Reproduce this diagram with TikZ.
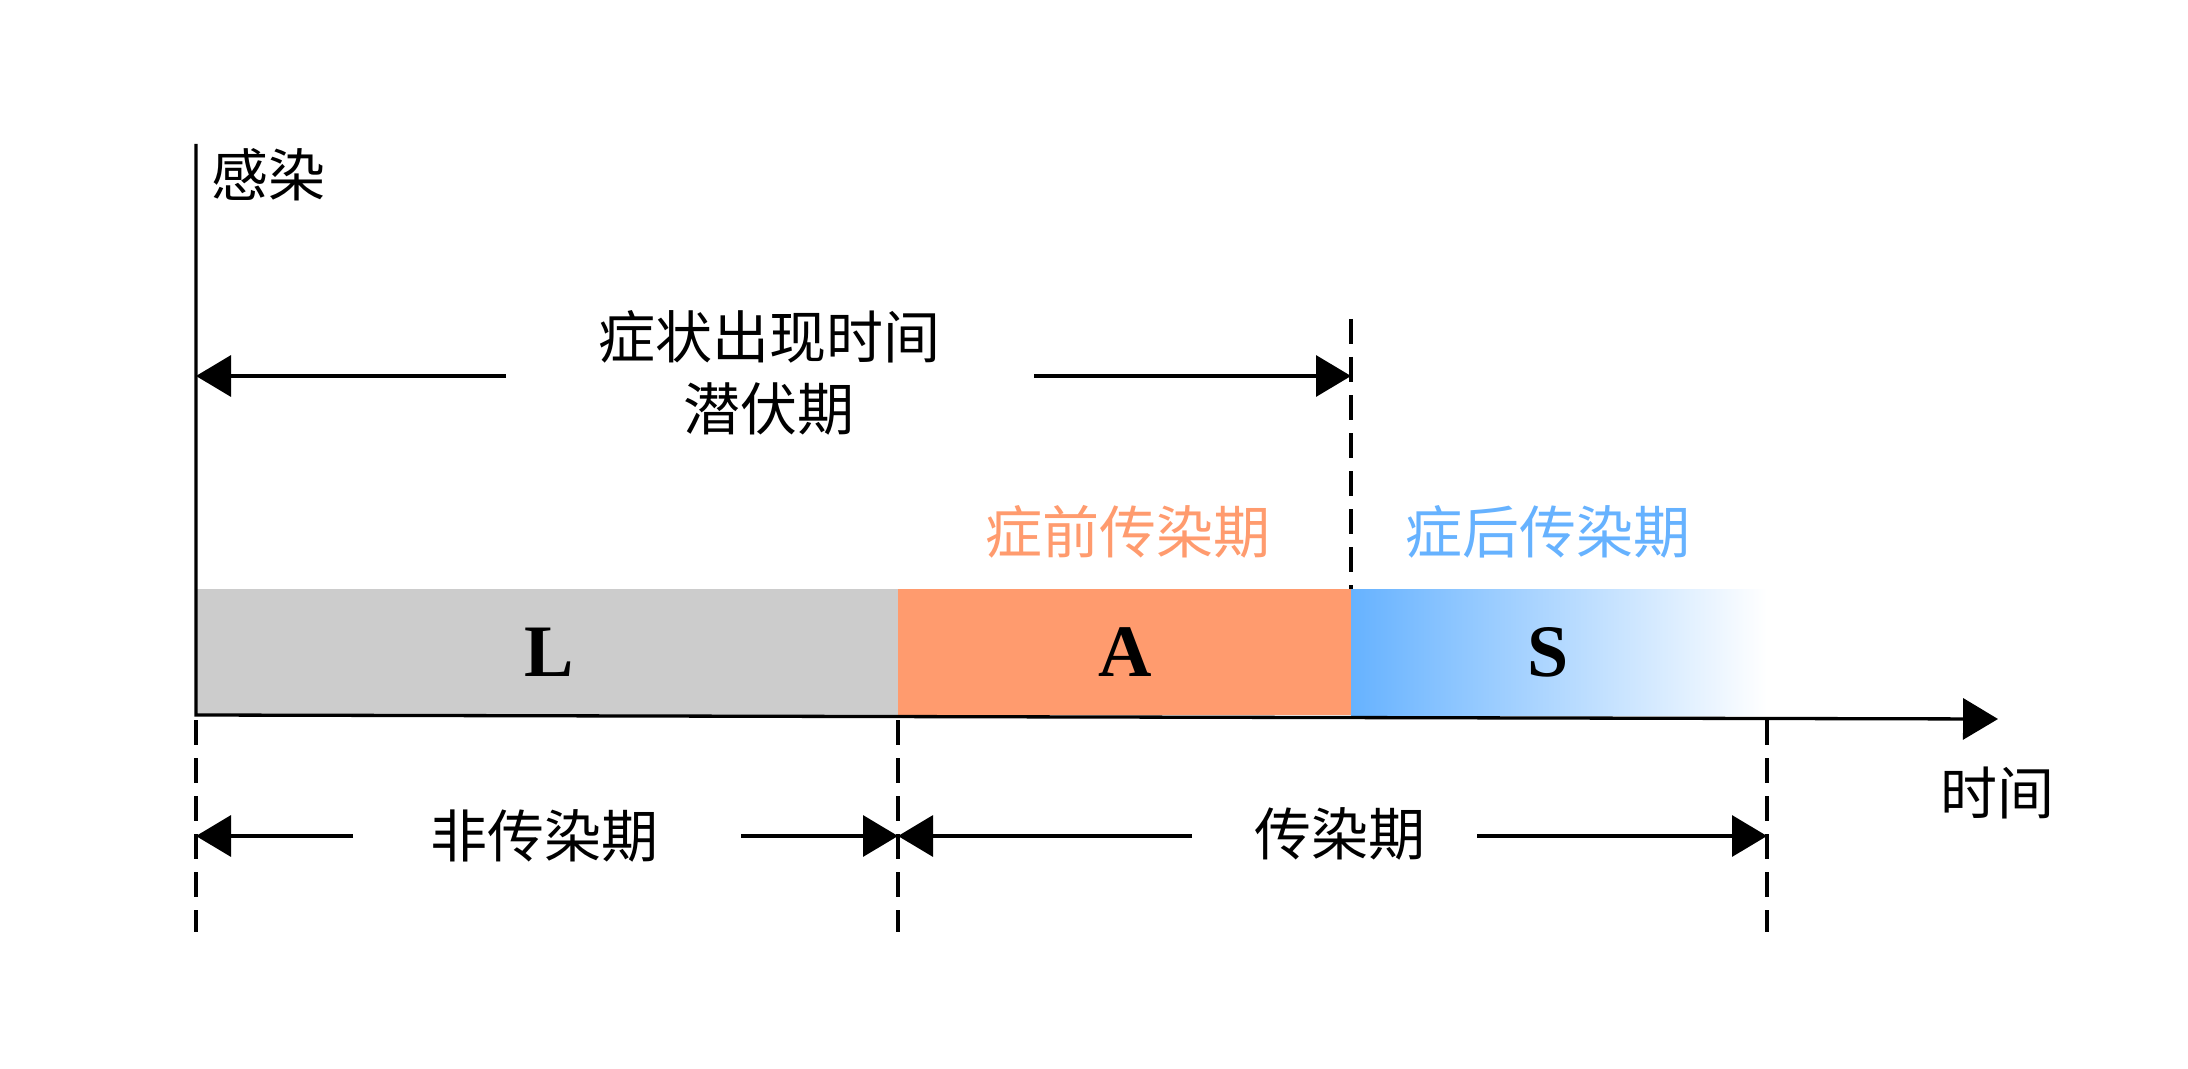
\documentclass[tikz,border=0pt]{standalone}
\usepackage{fontspec}
\setmainfont{Liberation Serif}
\newfontfamily\cjk{Noto Sans CJK SC}
\usetikzlibrary{arrows.meta}
\definecolor{grayfill}{RGB}{204,204,204}
\definecolor{orangefill}{RGB}{255,155,110}
\definecolor{bluefill}{RGB}{102,178,255}
\tikzset{
  axisline/.style={line width=1.65pt,-{Triangle[length=17.5pt,width=20.5pt]}},
  dimarrow/.style={line width=1.65pt,-{Triangle[length=17.5pt,width=20.5pt]}},
  guide/.style={line width=1.65pt,dash pattern=on 12.5pt off 6.5pt},
  cjklabel/.style={font=\cjk\fontsize{28.5}{36}\selectfont,inner sep=0pt,align=center},
  bigletter/.style={font=\fontsize{37}{40}\selectfont\bfseries,inner sep=0pt}
}
\begin{document}
\begin{tikzpicture}[x=0.5pt,y=-0.5pt]
\useasboundingbox (0,0) rectangle (2188,1069);
% bars
\fill[grayfill] (196,589) rectangle (898,715);
\fill[orangefill] (898,589) rectangle (1351,715);
\shade[left color=bluefill,right color=white] (1351,589) rectangle (1767,715);
% coordinates
\coordinate (ytop) at (196,144);
\coordinate (origin) at (196,715);
\coordinate (xend) at (1998,719);
\coordinate (g1a) at (196,720); \coordinate (g1b) at (196,932);
\coordinate (g2a) at (898,720); \coordinate (g2b) at (898,932);
\coordinate (g3a) at (1767,720); \coordinate (g3b) at (1767,932);
\coordinate (g4a) at (1351,319); \coordinate (g4b) at (1351,589);
\coordinate (t1) at (506,376); \coordinate (t1tip) at (196,376);
\coordinate (t2) at (1034,376); \coordinate (t2tip) at (1351,376);
\coordinate (b1) at (353,836); \coordinate (b1tip) at (196,836);
\coordinate (b2) at (741,836); \coordinate (b2tip) at (898,836);
\coordinate (b3) at (1192,836); \coordinate (b3tip) at (898,836);
\coordinate (b4) at (1477,836); \coordinate (b4tip) at (1767,836);
% guides
\draw[guide] (g1a) -- (g1b);
\draw[guide] (g2a) -- (g2b);
\draw[guide] (g3a) -- (g3b);
\draw[guide] (g4a) -- (g4b);
% axes
\draw[axisline] (ytop) -- (origin) -- (xend);
% dimension arrows
\draw[dimarrow] (t1) -- (t1tip);
\draw[dimarrow] (t2) -- (t2tip);
\draw[dimarrow] (b1) -- (b1tip);
\draw[dimarrow] (b2) -- (b2tip);
\draw[dimarrow] (b3) -- (b3tip);
\draw[dimarrow] (b4) -- (b4tip);
% labels
\node[cjklabel] (infect) at (268,175) {感染};
\node[cjklabel] (latent) at (769,373) {症状出现时间\\潜伏期};
\node[cjklabel,text=orangefill] (pre) at (1128,532) {症前传染期};
\node[cjklabel,text=bluefill] (post) at (1548,532) {症后传染期};
\node[bigletter] (L) at (549,652) {L};
\node[bigletter] (A) at (1125,652) {A};
\node[bigletter] (S) at (1548,652) {S};
\node[cjklabel] (time) at (1997,793) {时间};
\node[cjklabel] (noninf) at (544,836) {非传染期};
\node[cjklabel] (inf) at (1340,834) {传染期};
\end{tikzpicture}
\end{document}
